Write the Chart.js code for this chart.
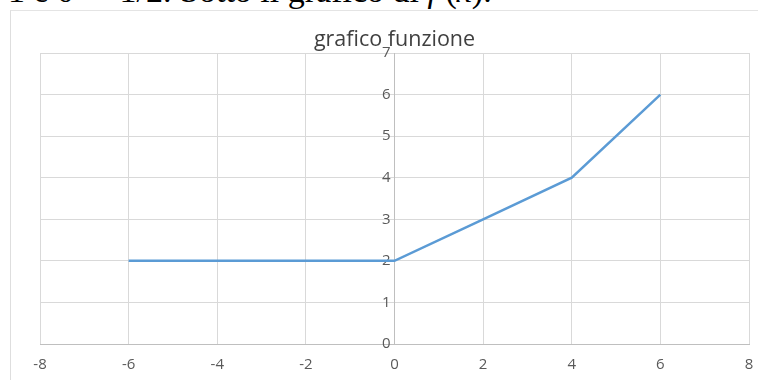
<!DOCTYPE html>
<html>
<head>
<meta charset="utf-8">
<script src="https://cdn.jsdelivr.net/npm/chart.js@4/dist/chart.umd.min.js"></script>
<style>
  html, body { margin: 0; padding: 0; background: #ffffff; }
  #page { position: relative; width: 758px; height: 380px; overflow: hidden; background: #ffffff; }
  #textline {
    position: absolute; left: 8px; top: -28px; white-space: nowrap;
    font-family: "Liberation Serif", "DejaVu Serif", serif; font-size: 34px; line-height: 38px; color: #000;
  }
  #frame {
    position: absolute; left: 10px; top: 10px; width: 800px; height: 400px;
    border-left: 1px solid #dedede; border-top: 1px solid #e4e4e4;
  }
  #wrap { position: absolute; left: 0; top: 0; width: 792px; height: 380px; }
</style>
</head>
<body>
<div id="page">
  <div id="textline">1 e 0 ⇒ 1/2. Sotto il grafico di <i>f</i> (<i>x</i>).</div>
  <div id="frame"></div>
  <div id="wrap"><canvas id="chart" width="792" height="380"></canvas></div>
</div>
<script>
// f(x): constant 2 for x <= 0, then rising piecewise-linearly
const xValues = [-6, -4, -2, 0, 2, 4, 6];
const yValues = [2, 2, 2, 2, 3, 4, 6];
const xTicks = [-8, -6, -4, -2, 0, 2, 4, 6, 8];
const yTicks = [0, 1, 2, 3, 4, 5, 6, 7];
const chartTitle = 'grafico funzione';

const points = xValues.map((x, i) => ({ x: x, y: yValues[i] }));

const tickFont = { family: '"Open Sans", "Liberation Sans", sans-serif', size: 15 };
const gridColor = '#d9d9d9';
const axisColor = '#bfbfbf';
const labelColor = '#595959';

new Chart(document.getElementById('chart'), {
  type: 'scatter',
  data: {
    datasets: [{
      data: points,
      showLine: true,
      borderColor: '#5b9bd5',
      backgroundColor: '#5b9bd5',
      borderWidth: 2.5,
      pointRadius: 0,
      tension: 0
    }]
  },
  options: {
    responsive: false,
    animation: false,
    layout: { padding: { left: 40, right: 43, top: 0, bottom: -6 } },
    plugins: {
      legend: { display: false },
      tooltip: { enabled: false },
      title: {
        display: true,
        text: chartTitle,
        color: '#404040',
        font: { family: '"Open Sans", "Liberation Sans", sans-serif', size: 21.5, weight: 'normal' },
        padding: { top: 27, bottom: 0.2 }
      }
    },
    scales: {
      x: {
        type: 'linear',
        position: 'bottom',
        min: xTicks[0],
        max: xTicks[xTicks.length - 1],
        afterBuildTicks: (axis) => { axis.ticks = xTicks.map(v => ({ value: v })); },
        grid: { color: gridColor, lineWidth: 1, drawTicks: false },
        border: { color: axisColor, width: 1 },
        ticks: { color: labelColor, font: tickFont, padding: 12, maxRotation: 0 }
      },
      y: {
        type: 'linear',
        position: { x: 0 },
        min: yTicks[0],
        max: yTicks[yTicks.length - 1],
        afterBuildTicks: (axis) => { axis.ticks = yTicks.map(v => ({ value: v })); },
        // the value axis sits inside the plot, so it takes no layout room
        afterFit: (axis) => {
          axis.width = 0;
          axis.paddingTop = 0; axis.paddingBottom = 0;
          axis.paddingLeft = 0; axis.paddingRight = 0;
        },
        grid: { color: gridColor, lineWidth: 1, drawTicks: false },
        border: { color: axisColor, width: 1 },
        ticks: { color: labelColor, font: tickFont, callback: (v) => v + ' ' }
      }
    }
  }
});
</script>
</body>
</html>
